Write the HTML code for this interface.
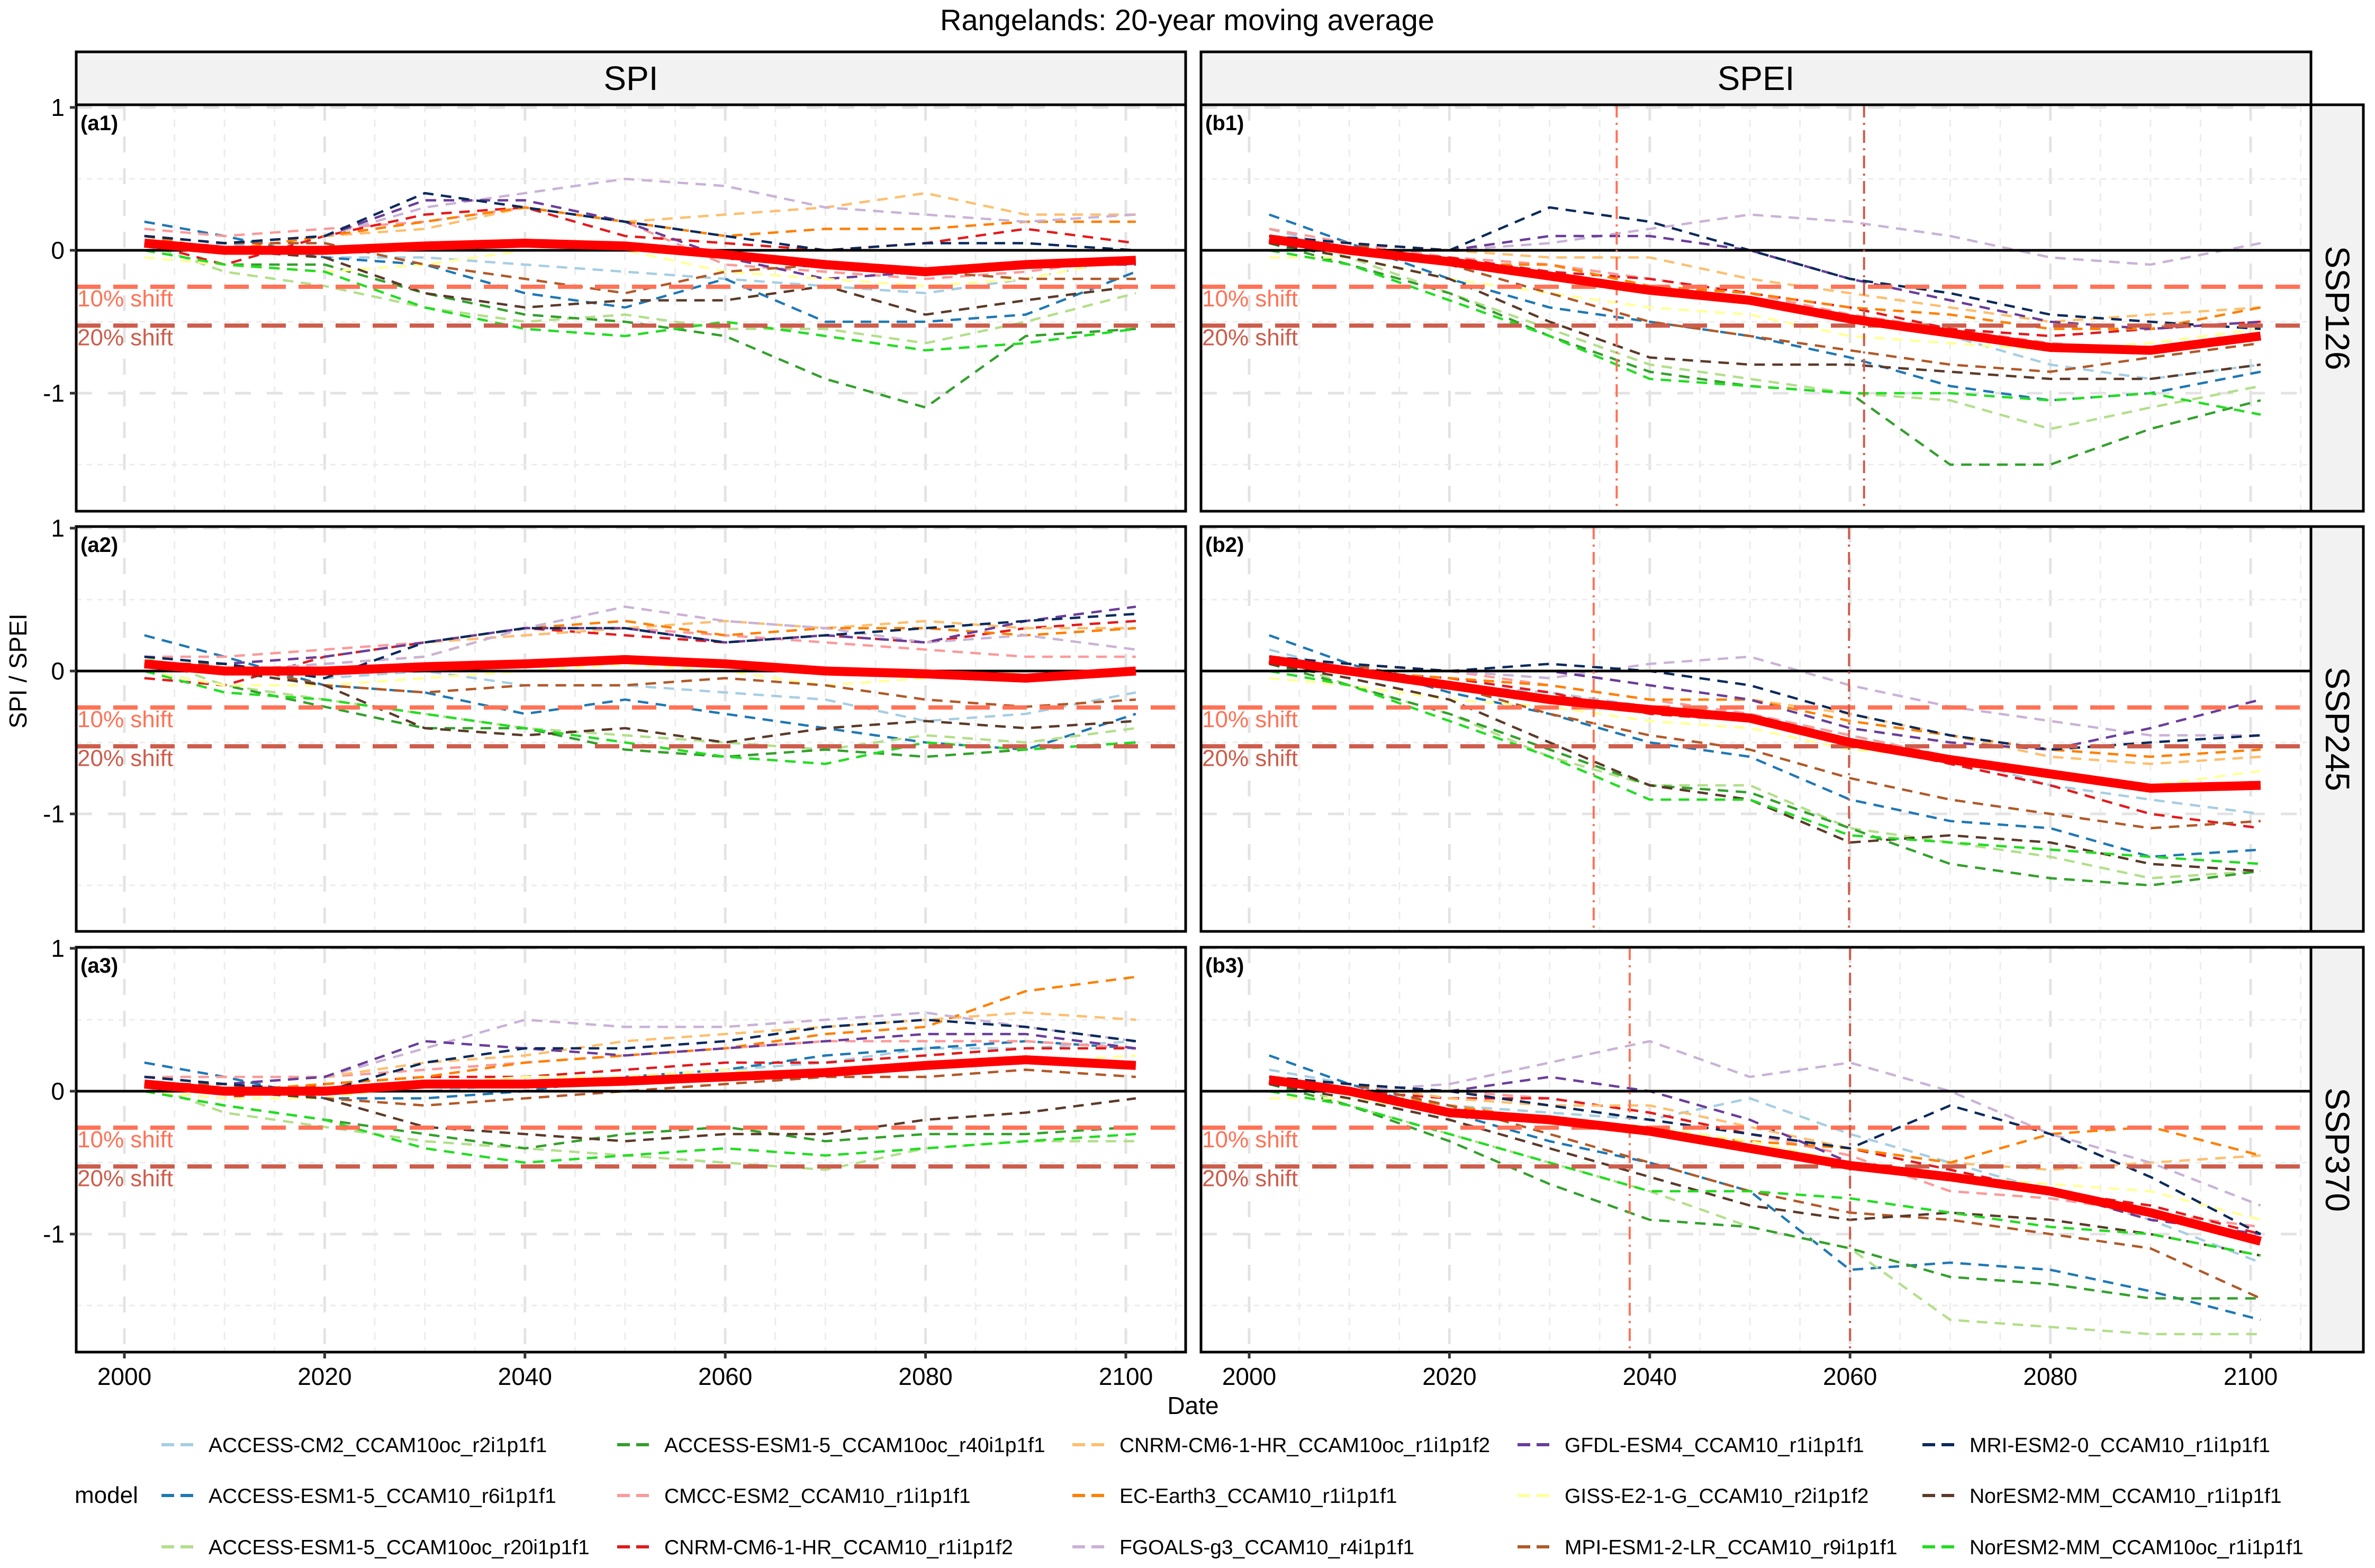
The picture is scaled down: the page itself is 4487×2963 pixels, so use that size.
<!DOCTYPE html>
<html><head><meta charset="utf-8"><title>Rangelands: 20-year moving average</title>
<style>html,body{margin:0;padding:0;background:#fff;}svg{display:block;font-family:"Liberation Sans",Arial,sans-serif;}</style>
</head><body>
<svg id="chart" width="4487" height="2963" viewBox="0 0 4487 2963" xmlns="http://www.w3.org/2000/svg">
<rect x="0" y="0" width="4487" height="2963" fill="#fff"/>
<text x="2243" y="57" text-anchor="middle" font-size="56">Rangelands: 20-year moving average</text>
<g id="panels"></g>
<text x="2254" y="2672" text-anchor="middle" font-size="46">Date</text>
<text transform="translate(50,1268) rotate(-90)" text-anchor="middle" font-size="46">SPI / SPEI</text>
<g id="legend"></g>
</svg>
<script>
const years = [2002,2010,2020,2030,2040,2050,2060,2070,2080,2090,2101];
const modelNames = ["ACCESS-CM2_CCAM10oc_r2i1p1f1","ACCESS-ESM1-5_CCAM10_r6i1p1f1","ACCESS-ESM1-5_CCAM10oc_r20i1p1f1","ACCESS-ESM1-5_CCAM10oc_r40i1p1f1","CMCC-ESM2_CCAM10_r1i1p1f1","CNRM-CM6-1-HR_CCAM10_r1i1p1f2","CNRM-CM6-1-HR_CCAM10oc_r1i1p1f2","EC-Earth3_CCAM10_r1i1p1f1","FGOALS-g3_CCAM10_r4i1p1f1","GFDL-ESM4_CCAM10_r1i1p1f1","GISS-E2-1-G_CCAM10_r2i1p1f2","MPI-ESM1-2-LR_CCAM10_r9i1p1f1","MRI-ESM2-0_CCAM10_r1i1p1f1","NorESM2-MM_CCAM10_r1i1p1f1","NorESM2-MM_CCAM10oc_r1i1p1f1"];
const modelColors = ["#A6CEE3","#1F78B4","#B2DF8A","#33A02C","#FB9A99","#E31A1C","#FDBF6F","#FF7F00","#CAB2D6","#6A3D9A","#FFFF99","#B15928","#0B2A5B","#5B3A29","#22DD22"];
const yTicks = [1,0,-1];
const yTickLabels = ["1","0","-1"];
const xTicks = [2000,2020,2040,2060,2080,2100];
const shift10 = -0.255;
const shift20 = -0.527;
const vlines = {b1:[2036.7,2061.4], b2:[2034.4,2059.9], b3:[2038.0,2060.0]};

const meanA1 = [.05,0,0,.03,.05,.03,-.03,-.1,-.15,-.1,-.07];
const modelsA1 = [
[.1,.05,-.05,-.05,-.1,-.15,-.2,-.25,-.3,-.2,-.05],
[.2,.1,-.05,-.1,-.3,-.4,-.2,-.5,-.5,-.45,-.15],
[.05,-.15,-.25,-.4,-.5,-.45,-.55,-.55,-.65,-.5,-.3],
[0,-.1,-.1,-.3,-.45,-.5,-.6,-.9,-1.1,-.6,-.55],
[.15,.1,.15,.2,.3,.2,-.1,-.15,-.2,-.15,-.05],
[.05,-.1,.1,.25,.3,.1,.05,0,.05,.15,.05],
[.1,.05,.1,.15,.3,.2,.25,.3,.4,.25,.25],
[.1,0,.1,.2,.3,.2,.1,.15,.15,.2,.2],
[0,.05,.1,.3,.4,.5,.45,.3,.25,.2,.25],
[.1,.05,.1,.35,.35,.2,-.05,-.2,-.15,-.1,-.1],
[-.05,-.1,-.15,-.1,0,0,-.15,-.2,-.25,-.2,-.05],
[.1,.05,.05,-.1,-.2,-.3,-.15,-.1,-.15,-.2,-.2],
[.1,.05,.1,.4,.3,.2,.1,0,.05,.05,0],
[.05,0,-.05,-.3,-.4,-.35,-.35,-.25,-.45,-.35,-.25],
[0,-.1,-.15,-.4,-.55,-.6,-.5,-.6,-.7,-.65,-.55]];
const meanA2 = [.05,0,0,.03,.05,.08,.05,0,-.02,-.05,0];
const modelsA2 = [
[.1,.05,-.05,0,-.1,-.1,-.15,-.2,-.35,-.3,-.15],
[.25,.1,-.1,-.15,-.3,-.2,-.3,-.4,-.5,-.55,-.3],
[.1,-.1,-.2,-.3,-.4,-.45,-.5,-.55,-.45,-.5,-.4],
[0,-.1,-.25,-.4,-.4,-.55,-.6,-.55,-.6,-.55,-.5],
[.1,.1,.15,.2,.25,.3,.25,.2,.15,.1,.1],
[-.05,-.1,.1,.2,.3,.25,.2,.25,.2,.3,.35],
[.05,.05,.1,.2,.25,.3,.35,.3,.35,.3,.3],
[0,0,.05,.1,.3,.35,.25,.3,.3,.25,.3],
[0,0,.05,.1,.3,.45,.35,.3,.2,.25,.15],
[.1,.05,.1,.2,.3,.3,.2,.25,.2,.35,.45],
[0,-.1,-.1,-.05,0,.05,0,-.1,-.05,0,0],
[.05,.05,-.1,-.15,-.1,-.1,-.05,-.1,-.2,-.25,-.2],
[.1,.05,-.05,.2,.3,.3,.2,.25,.3,.35,.4],
[.05,0,-.1,-.4,-.45,-.4,-.5,-.4,-.35,-.4,-.35],
[0,-.15,-.2,-.3,-.4,-.5,-.6,-.65,-.5,-.55,-.5]];
const meanA3 = [.05,0,0,.05,.05,.07,.1,.13,.18,.22,.18];
const modelsA3 = [
[.1,.05,0,0,.05,.1,.15,.2,.3,.3,.35],
[.2,.1,-.05,-.05,0,.1,.15,.25,.3,.35,.3],
[.05,-.15,-.25,-.35,-.4,-.45,-.5,-.55,-.4,-.35,-.35],
[0,-.1,-.2,-.3,-.4,-.3,-.25,-.35,-.3,-.3,-.25],
[.1,.1,.1,.15,.2,.25,.3,.35,.35,.35,.3],
[0,-.05,.05,.1,.1,.15,.2,.2,.25,.3,.3],
[.05,.05,.1,.2,.25,.35,.4,.45,.5,.55,.5],
[.05,0,.05,.1,.2,.25,.3,.4,.45,.7,.8],
[0,.05,.1,.3,.5,.45,.45,.5,.55,.45,.35],
[.1,.05,.1,.35,.3,.25,.3,.35,.4,.4,.3],
[0,-.05,-.05,.05,.1,.1,.15,.1,.2,.2,.25],
[.05,.05,-.05,-.1,-.05,0,.05,.1,.1,.15,.1],
[.1,.05,0,.2,.3,.3,.35,.45,.5,.45,.35],
[.05,0,-.05,-.25,-.3,-.35,-.3,-.3,-.2,-.15,-.05],
[0,-.1,-.2,-.4,-.5,-.45,-.4,-.45,-.4,-.35,-.3]];
const meanB1 = [.08,0,-.08,-.18,-.28,-.35,-.48,-.58,-.68,-.7,-.6];
const modelsB1 = [
[.15,0,-.1,-.2,-.3,-.35,-.5,-.6,-.8,-.9,-.8],
[.25,.05,-.2,-.4,-.5,-.6,-.75,-.95,-1.05,-1.0,-.85],
[.1,-.05,-.3,-.55,-.8,-.9,-1.0,-1.05,-1.25,-1.1,-.95],
[.05,-.1,-.3,-.6,-.85,-.95,-1.0,-1.5,-1.5,-1.25,-1.05],
[.15,.05,-.05,-.1,-.2,-.3,-.45,-.55,-.65,-.7,-.6],
[.05,0,-.05,-.15,-.2,-.3,-.4,-.55,-.6,-.55,-.5],
[.1,.05,0,-.05,-.05,-.2,-.3,-.4,-.5,-.45,-.4],
[.1,0,-.1,-.1,-.25,-.3,-.4,-.45,-.55,-.55,-.4],
[0,0,0,.05,.15,.25,.2,.1,-.05,-.1,.05],
[.1,.05,0,.1,.1,0,-.2,-.35,-.5,-.55,-.5],
[-.05,-.05,-.2,-.3,-.4,-.45,-.6,-.65,-.7,-.65,-.55],
[.1,.05,-.1,-.3,-.5,-.6,-.7,-.8,-.85,-.75,-.65],
[.1,.05,0,.3,.2,0,-.2,-.3,-.45,-.5,-.55],
[.05,-.05,-.2,-.5,-.75,-.8,-.8,-.85,-.9,-.9,-.8],
[0,-.1,-.35,-.6,-.9,-.95,-1.0,-1.0,-1.05,-1.0,-1.15]];
const meanB2 = [.08,0,-.1,-.2,-.27,-.33,-.5,-.62,-.72,-.82,-.8];
const modelsB2 = [
[.15,0,-.1,-.15,-.25,-.3,-.45,-.6,-.8,-.9,-1.0],
[.25,.05,-.15,-.3,-.5,-.6,-.9,-1.05,-1.1,-1.3,-1.25],
[.1,-.1,-.3,-.6,-.8,-.8,-1.1,-1.2,-1.3,-1.45,-1.4],
[.05,-.1,-.3,-.55,-.8,-.85,-1.1,-1.35,-1.45,-1.5,-1.4],
[.1,.05,0,-.1,-.2,-.3,-.45,-.6,-.7,-.8,-.8],
[.05,0,-.05,-.15,-.3,-.35,-.5,-.65,-.8,-1.0,-1.1],
[.1,.05,0,0,-.1,-.2,-.3,-.45,-.6,-.65,-.6],
[.1,0,-.05,-.1,-.2,-.2,-.35,-.45,-.55,-.6,-.55],
[0,0,0,-.05,.05,.1,-.1,-.25,-.35,-.45,-.45],
[.1,.05,0,0,-.1,-.2,-.4,-.5,-.55,-.4,-.2],
[-.05,-.1,-.2,-.25,-.35,-.4,-.55,-.6,-.75,-.8,-.7],
[.1,.05,-.1,-.3,-.45,-.55,-.75,-.9,-1.0,-1.1,-1.05],
[.1,.05,0,.05,0,-.1,-.3,-.45,-.55,-.5,-.45],
[.05,-.05,-.2,-.5,-.8,-.9,-1.2,-1.15,-1.2,-1.35,-1.4],
[0,-.1,-.35,-.6,-.9,-.9,-1.15,-1.2,-1.25,-1.3,-1.35]];
const meanB3 = [.08,0,-.15,-.2,-.28,-.4,-.52,-.6,-.7,-.85,-1.05];
const modelsB3 = [
[.15,.05,-.1,-.15,-.2,-.05,-.3,-.5,-.7,-.9,-1.2],
[.25,.05,-.15,-.35,-.5,-.7,-1.25,-1.2,-1.25,-1.4,-1.6],
[.1,-.1,-.3,-.5,-.7,-.95,-1.1,-1.6,-1.65,-1.7,-1.7],
[.05,-.1,-.35,-.65,-.9,-.95,-1.1,-1.3,-1.35,-1.45,-1.45],
[.1,.05,0,-.05,-.15,-.3,-.45,-.7,-.75,-.85,-.95],
[.05,0,-.05,-.05,-.15,-.3,-.4,-.55,-.7,-.8,-1.0],
[.1,.05,-.05,-.1,-.1,-.25,-.4,-.5,-.55,-.5,-.45],
[.1,0,-.1,-.2,-.3,-.35,-.4,-.5,-.3,-.25,-.45],
[0,0,.05,.2,.35,.1,.2,0,-.3,-.5,-.8],
[.1,.05,0,.1,0,-.2,-.5,-.6,-.7,-.9,-1.0],
[-.05,-.05,-.15,-.2,-.25,-.35,-.5,-.6,-.65,-.7,-.9],
[.1,.05,-.1,-.3,-.5,-.7,-.85,-.9,-1.0,-1.1,-1.45],
[.1,.05,0,-.1,-.2,-.3,-.4,-.1,-.3,-.6,-1.0],
[.05,-.05,-.2,-.4,-.6,-.8,-.9,-.85,-.9,-1.0,-1.15],
[0,-.1,-.3,-.5,-.7,-.7,-.75,-.85,-.95,-1.0,-1.15]];

const NS = "http://www.w3.org/2000/svg";
function mk(tag, attrs, parent){ const e=document.createElementNS(NS,tag); for(const k in attrs) e.setAttribute(k,attrs[k]); if(parent) parent.appendChild(e); return e; }

const cols = [{left:144,right:2240,strip:"SPI",id:"a"},{left:2269,right:4366,strip:"SPEI",id:"b"}];
const rows = [{y0:473,top:198,bottom:966,ssp:"SSP126"},{y0:1268,top:995,bottom:1760,ssp:"SSP245"},{y0:2062,top:1790,bottom:2555,ssp:"SSP370"}];
const data = {a1:[meanA1,modelsA1],a2:[meanA2,modelsA2],a3:[meanA3,modelsA3],b1:[meanB1,modelsB1],b2:[meanB2,modelsB2],b3:[meanB3,modelsB3]};
const PXU = 270, PXY = 18.92;
const root = document.getElementById('panels');

cols.forEach((c,ci)=>{
  const xs = yr => (c.left+91) + (yr-2000)*PXY;
  const st = mk('g',{},root);
  
  
  mk('rect',{x:c.left,y:98,width:c.right-c.left,height:100,fill:'#f2f2f2',stroke:'#000','stroke-width':5},st);
  const t = mk('text',{x:(c.left+c.right)/2,y:170,'text-anchor':'middle','font-size':64},st); t.textContent=c.strip;
  rows.forEach((r,ri)=>{
    const key = c.id+(ri+1);
    const ys = v => r.y0 - v*PXU;
    const g = mk('g',{},root);
    
    
    const cp = mk('clipPath',{id:'clip'+key},g);
    mk('rect',{x:c.left,y:r.top,width:c.right-c.left,height:r.bottom-r.top},cp);
    const inner = mk('g',{'clip-path':'url(#clip'+key+')'},g);
    for(let yr=2000; yr<=2105; yr+=5){
      const major = (yr%20===0);
      const gl = mk('line',{x1:xs(yr),x2:xs(yr),y1:r.top,y2:r.bottom,stroke:major?'#e3e3e3':'#ececec','stroke-width':major?5:3,'stroke-dasharray':major?'30 30':'14 14'},inner);
      
      
    }
    [-1.5,-1,-0.5,0.5,1].forEach(v=>{
      const major = Number.isInteger(v);
      const gl = mk('line',{x1:c.left,x2:c.right,y1:ys(v),y2:ys(v),stroke:major?'#e3e3e3':'#ececec','stroke-width':major?5:3,'stroke-dasharray':major?'30 30':'10 10'},inner);
      
      
    });
    const [mean, models] = data[key];
    models.forEach((vals,mi)=>{
      const d = vals.map((v,i)=>(i?'L':'M')+xs(years[i]).toFixed(1)+','+ys(v).toFixed(1)).join(' ');
      const p = mk('path',{d:d,fill:'none',stroke:modelColors[mi],'stroke-width':4.5,'stroke-dasharray':'20 14'},inner);
      
      
    });
    const z = mk('line',{x1:c.left,x2:c.right,y1:ys(0),y2:ys(0),stroke:'#000','stroke-width':5},inner);
    
    
    const s1 = mk('line',{x1:c.left,x2:c.right,y1:ys(shift10),y2:ys(shift10),stroke:'#FF7256','stroke-width':8,'stroke-dasharray':'46 24'},inner);
    
    
    const s2 = mk('line',{x1:c.left,x2:c.right,y1:ys(shift20),y2:ys(shift20),stroke:'#CD5C4B','stroke-width':8,'stroke-dasharray':'46 24'},inner);
    
    
    const l1 = mk('text',{x:c.left+2,y:ys(shift10)+37,'font-size':44,fill:'#FF7256'},inner); l1.textContent='10% shift';
    
    
    const l2 = mk('text',{x:c.left+2,y:ys(shift20)+37,'font-size':44,fill:'#CD5C4B'},inner); l2.textContent='20% shift';
    
    
    if(vlines[key]){
      vlines[key].forEach((yr,vi)=>{
        const vl = mk('line',{x1:xs(yr),x2:xs(yr),y1:r.top,y2:r.bottom,stroke:vi?'#CD5C4B':'#FF7256','stroke-width':4,'stroke-dasharray':'24 10 4 10'},inner);
        
        
      });
    }
    const md = mean.map((v,i)=>(i?'L':'M')+xs(years[i]).toFixed(1)+','+ys(v).toFixed(1)).join(' ');
    const mp = mk('path',{d:md,fill:'none',stroke:'#FF0000','stroke-width':17,'stroke-linejoin':'round'},inner);
    
    
    mk('rect',{x:c.left,y:r.top,width:c.right-c.left,height:r.bottom-r.top,fill:'none',stroke:'#000','stroke-width':5},g);
    const tag = mk('text',{x:c.left+8,y:r.top+48,'font-size':40,'font-weight':'bold'},g); tag.textContent='('+key+')';
    
    
    if(ci===0){
      yTicks.forEach((v,ti)=>{
        mk('line',{x1:c.left-12,x2:c.left,y1:ys(v),y2:ys(v),stroke:'#333','stroke-width':5},g);
        const tl = mk('text',{x:c.left-22,y:ys(v)+16,'text-anchor':'end','font-size':46},g); tl.textContent=yTickLabels[ti];
        
        
      });
    } else {
      const rs = mk('g',{},root);
      
      
      mk('rect',{x:4366,y:r.top,width:99,height:r.bottom-r.top,fill:'#f2f2f2',stroke:'#000','stroke-width':5},rs);
      const rt = mk('text',{transform:'translate(4394,'+((r.top+r.bottom)/2)+') rotate(90)','text-anchor':'middle','font-size':64},rs); rt.textContent=r.ssp;
    }
    if(ri===2){
      xTicks.forEach(yr=>{
        mk('line',{x1:xs(yr),x2:xs(yr),y1:r.bottom,y2:r.bottom+12,stroke:'#333','stroke-width':5},g);
        const xl = mk('text',{x:xs(yr),y:r.bottom+62,'text-anchor':'middle','font-size':46},g); xl.textContent=String(yr);
        
        
      });
    }
  });
});

const lg = document.getElementById('legend');
const lt = mk('text',{x:141,y:2840,'font-size':44},lg); lt.textContent='model';


const colX = [305,1166,2026,2867,3632];
const rowY = [2730,2826,2923];
modelNames.forEach((n,i)=>{
  const cx = colX[Math.floor(i/3)], cy = rowY[i%3];
  const e = mk('g',{},lg);
  
  
  mk('line',{x1:cx,x2:cx+60,y1:cy,y2:cy,stroke:modelColors[i],'stroke-width':6,'stroke-dasharray':'24 12'},e);
  const t = mk('text',{x:cx+89,y:cy+14,'font-size':39},e); t.textContent=n;
});
</script>
</body></html>
